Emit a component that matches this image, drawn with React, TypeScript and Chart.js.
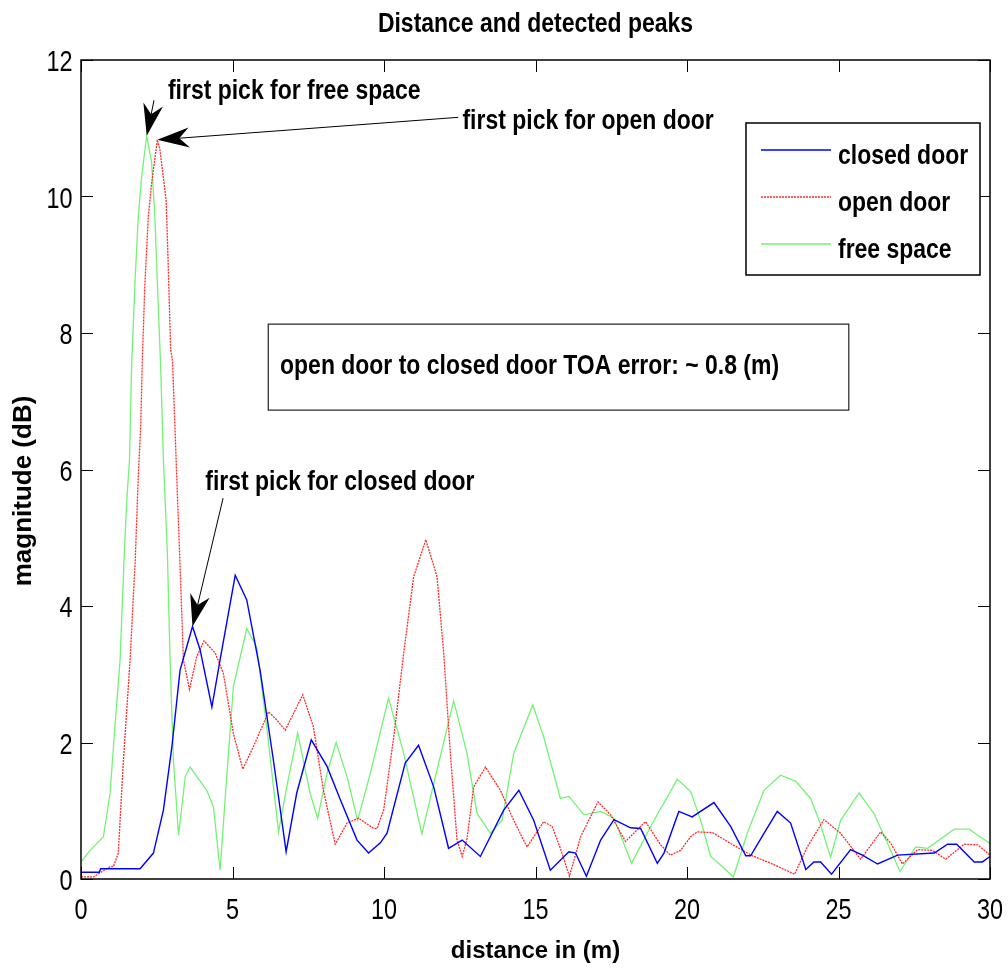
import { useEffect, useRef } from "react";
import { Chart, registerables } from "chart.js";

Chart.register(...registerables);

// Measured magnitude vs. distance, one [distance (m), magnitude (dB)] pair per point
const closedDoor: [number, number][] = [
  [0, 0.1], [0.6, 0.1], [0.65, 0.15], [1.95, 0.15], [2.39, 0.38], [2.72, 1.01], [3.0, 1.94],
  [3.27, 3.06], [3.68, 3.7], [3.93, 3.36], [4.32, 2.52], [4.59, 3.21], [5.09, 4.45], [5.47, 4.09],
  [5.91, 3.06], [6.35, 1.74], [6.77, 0.4], [7.12, 1.26], [7.6, 2.04], [8.12, 1.65], [8.56, 1.16],
  [9.11, 0.57], [9.49, 0.38], [9.88, 0.53], [10.1, 0.67], [10.7, 1.7], [11.14, 1.96], [11.64, 1.35],
  [12.13, 0.45], [12.58, 0.57], [13.18, 0.33], [13.95, 1.01], [14.45, 1.3], [14.94, 0.86],
  [15.49, 0.13], [16.1, 0.4], [16.32, 0.38], [16.68, 0.04], [17.15, 0.57], [17.59, 0.87],
  [18.14, 0.75], [18.47, 0.74], [19.02, 0.23], [19.24, 0.38], [19.73, 0.99], [20.17, 0.91],
  [20.89, 1.12], [21.44, 0.77], [21.94, 0.34], [22.1, 0.34], [22.54, 0.67], [22.98, 0.99],
  [23.42, 0.82], [23.92, 0.14], [24.19, 0.25], [24.41, 0.25], [24.77, 0.07], [25.4, 0.43],
  [25.79, 0.35], [26.29, 0.22], [26.95, 0.35], [28.16, 0.38], [28.6, 0.51], [28.9, 0.51],
  [29.48, 0.25], [29.75, 0.25], [30, 0.33],
];

const openDoor: [number, number][] = [
  [0, 0.03], [0.4, 0.03], [0.96, 0.18], [1.07, 0.18], [1.23, 0.38], [1.4, 1.74], [1.62, 3.21],
  [1.79, 4.67], [1.89, 5.89], [1.97, 6.63], [2.03, 7.7], [2.11, 8.73], [2.22, 9.7], [2.33, 10.19],
  [2.52, 10.83], [2.6, 10.7], [2.81, 9.95], [2.88, 8.97], [2.96, 7.75], [3.02, 7.6], [3.16, 5.89],
  [3.27, 4.58], [3.38, 3.21], [3.58, 2.78], [3.82, 3.26], [4.06, 3.49], [4.43, 3.31], [4.7, 3.01],
  [5.03, 2.13], [5.34, 1.61], [5.69, 1.94], [6.19, 2.45], [6.46, 2.33], [6.74, 2.18], [7.32, 2.7],
  [7.67, 2.23], [8.0, 1.3], [8.39, 0.51], [8.78, 0.82], [9.16, 0.89], [9.66, 0.74], [9.77, 0.74],
  [9.99, 1.01], [10.32, 2.08], [10.65, 3.31], [10.98, 4.43], [11.38, 4.97], [11.75, 4.43],
  [11.97, 3.31], [12.19, 1.84], [12.41, 0.57], [12.58, 0.33], [12.74, 0.59], [12.96, 1.35],
  [13.35, 1.64], [13.84, 1.3], [14.28, 0.86], [14.72, 0.47], [15.27, 0.84], [15.55, 0.77],
  [15.82, 0.45], [16.12, 0.04], [16.49, 0.62], [17.06, 1.13], [17.48, 0.94], [17.97, 0.55],
  [18.63, 0.84], [19.13, 0.5], [19.45, 0.35], [19.79, 0.42], [20.12, 0.62], [20.34, 0.69],
  [20.84, 0.68], [21.44, 0.52], [22.16, 0.34], [22.87, 0.21], [23.55, 0.07], [23.97, 0.47],
  [24.52, 0.87], [25.07, 0.67], [25.73, 0.29], [26.39, 0.69], [26.73, 0.52], [27.11, 0.22],
  [27.61, 0.43], [28.1, 0.42], [28.54, 0.29], [29.15, 0.51], [29.6, 0.5], [30, 0.35],
];

const freeSpace: [number, number][] = [
  [0, 0.25], [0.3, 0.42], [0.74, 0.62], [0.96, 1.26], [1.12, 2.23], [1.29, 3.21], [1.43, 4.78],
  [1.51, 5.55], [1.6, 6.14], [1.67, 7.5], [1.78, 8.73], [1.89, 9.7], [2.0, 10.29], [2.17, 10.89],
  [2.33, 10.5], [2.44, 9.7], [2.52, 8.73], [2.63, 7.5], [2.72, 6.14], [2.85, 4.78], [2.94, 3.21],
  [3.05, 1.74], [3.22, 0.64], [3.44, 1.5], [3.6, 1.64], [4.15, 1.3], [4.37, 1.06], [4.59, 0.13],
  [4.81, 1.5], [5.03, 2.82], [5.47, 3.67], [5.8, 3.4], [6.13, 2.23], [6.52, 0.69], [6.79, 1.35],
  [7.15, 2.14], [7.56, 1.26], [7.81, 0.89], [8.12, 1.55], [8.42, 2.0], [8.78, 1.5], [9.13, 0.86],
  [9.55, 1.55], [10.15, 2.65], [10.65, 1.84], [11.25, 0.66], [11.75, 1.6], [12.3, 2.61],
  [12.74, 1.84], [13.07, 0.96], [13.51, 0.67], [13.9, 0.86], [14.28, 1.84], [14.91, 2.55],
  [15.27, 2.08], [15.82, 1.18], [16.1, 1.21], [16.6, 0.94], [17.15, 0.99], [17.59, 0.89],
  [18.17, 0.23], [18.8, 0.77], [19.68, 1.46], [20.12, 1.28], [20.45, 0.86], [20.78, 0.33],
  [21.17, 0.18], [21.53, 0.03], [21.99, 0.67], [22.54, 1.3], [23.09, 1.52], [23.59, 1.43],
  [24.08, 1.18], [24.36, 0.86], [24.74, 0.32], [25.07, 0.86], [25.68, 1.26], [26.17, 0.96],
  [26.62, 0.52], [27.03, 0.11], [27.55, 0.47], [27.94, 0.45], [28.82, 0.73], [29.31, 0.73],
  [30, 0.52],
];

const seriesNames = ["closed door", "open door", "free space"];
const xTicks = [0, 5, 10, 15, 20, 25, 30];
const yTicks = [0, 2, 4, 6, 8, 10, 12];

const chartTitle = "Distance and detected peaks";
const xTitle = "distance in (m)";
const yTitle = "magnitude (dB)";
const errorNote = "open door to closed door TOA error: ~ 0.8 (m)";

// Peak call-outs: which series, the x-range searched for its peak,
// the arrow tail and the text anchor (left, baseline) in data units.
const peakNotes = [
  { text: "first pick for free space", series: 2, range: [0, 30], tail: [2.41, 11.41], at: [2.87, 11.43] },
  { text: "first pick for open door", series: 1, range: [0, 30], tail: [12.45, 11.16], at: [12.59, 10.99] },
  { text: "first pick for closed door", series: 0, range: [0, 4.5], tail: [4.69, 5.58], at: [4.1, 5.7] },
];

const FONT = '"Liberation Sans", Arial, sans-serif';
// horizontal squeeze giving the condensed look of the labels
const SQUEEZE = 0.82;

const colors = ["#0000ff", "#ff2a2a", "#74f274"];
const dashes: number[][] = [[], [2, 1], []];
const widths = [1.4, 1.3, 1.3];

const allSeries = [closedDoor, openDoor, freeSpace];

function peakOf(points: [number, number][], range: number[]) {
  let best = points[0];
  for (const p of points) {
    if (p[0] >= range[0] && p[0] <= range[1] && p[1] > best[1]) best = p;
  }
  return best;
}

function condensedText(
  ctx: CanvasRenderingContext2D,
  text: string,
  x: number,
  y: number,
  align: CanvasTextAlign,
  sx: number,
) {
  ctx.save();
  ctx.translate(x, y);
  ctx.scale(sx, 1);
  ctx.textAlign = align;
  ctx.fillText(text, 0, 0);
  ctx.restore();
}

function drawArrow(ctx: CanvasRenderingContext2D, x1: number, y1: number, x2: number, y2: number) {
  const dx = x2 - x1;
  const dy = y2 - y1;
  const len = Math.hypot(dx, dy);
  const ux = dx / len;
  const uy = dy / len;
  const nx = -uy;
  const ny = ux;
  const L = 32;
  const W = 10;
  const notch = 22;
  ctx.beginPath();
  ctx.moveTo(x1, y1);
  ctx.lineTo(x2 - ux * notch, y2 - uy * notch);
  ctx.lineWidth = 1;
  ctx.strokeStyle = "#000";
  ctx.stroke();
  ctx.beginPath();
  ctx.moveTo(x2, y2);
  ctx.lineTo(x2 - ux * L + nx * W, y2 - uy * L + ny * W);
  ctx.lineTo(x2 - ux * notch, y2 - uy * notch);
  ctx.lineTo(x2 - ux * L - nx * W, y2 - uy * L - ny * W);
  ctx.closePath();
  ctx.fillStyle = "#000";
  ctx.fill();
}

const decorations = {
  id: "decorations",
  afterDatasetsDraw(chart: any) {
    const { ctx, chartArea: a, scales } = chart;
    const xs = scales.x;
    const ys = scales.y;
    const px = (v: number) => xs.getPixelForValue(v);
    const py = (v: number) => ys.getPixelForValue(v);

    ctx.save();
    // axes box
    ctx.strokeStyle = "#000";
    ctx.lineWidth = 1.5;
    ctx.strokeRect(a.left, a.top, a.right - a.left, a.bottom - a.top);

    // inward tick marks on all four sides
    const tl = 12;
    ctx.lineWidth = 1;
    ctx.beginPath();
    for (const t of xs.ticks) {
      const x = Math.round(px(t.value)) + 0.5;
      ctx.moveTo(x, a.bottom);
      ctx.lineTo(x, a.bottom - tl);
      ctx.moveTo(x, a.top);
      ctx.lineTo(x, a.top + tl);
    }
    for (const t of ys.ticks) {
      const y = Math.round(py(t.value)) + 0.5;
      ctx.moveTo(a.left, y);
      ctx.lineTo(a.left + tl, y);
      ctx.moveTo(a.right, y);
      ctx.lineTo(a.right - tl, y);
    }
    ctx.stroke();

    // tick labels
    ctx.fillStyle = "#000";
    ctx.textBaseline = "alphabetic";
    ctx.font = `30px ${FONT}`;
    for (const t of xs.ticks) {
      condensedText(ctx, String(t.value), px(t.value), a.bottom + 40, "center", 0.78);
    }
    for (const t of ys.ticks) {
      condensedText(ctx, String(t.value), a.left - 8.5, py(t.value) + 11, "right", 0.78);
    }

    // title
    ctx.font = `bold 28px ${FONT}`;
    condensedText(ctx, chartTitle, (a.left + a.right) / 2, 32, "center", SQUEEZE);

    // y axis title
    ctx.save();
    ctx.translate(24, 491);
    ctx.rotate(-Math.PI / 2);
    ctx.textBaseline = "middle";
    ctx.textAlign = "center";
    ctx.font = `bold 26px ${FONT}`;
    ctx.fillText(yTitle, 0, 0);
    ctx.restore();

    // x axis title
    ctx.textBaseline = "middle";
    ctx.textAlign = "center";
    ctx.font = `bold 24px ${FONT}`;
    ctx.fillText(xTitle, (a.left + a.right) / 2, 951);

    // peak call-outs
    ctx.textBaseline = "alphabetic";
    ctx.font = `bold 28px ${FONT}`;
    for (const n of peakNotes) {
      const pk = peakOf(allSeries[n.series], n.range);
      drawArrow(ctx, px(n.tail[0]), py(n.tail[1]), px(pk[0]), py(pk[1]));
      ctx.fillStyle = "#000";
      condensedText(ctx, n.text, px(n.at[0]), py(n.at[1]), "left", SQUEEZE);
    }

    // error note box
    const bx1 = px(6.18), bx2 = px(25.34), by1 = py(8.13), by2 = py(6.87);
    ctx.fillStyle = "#fff";
    ctx.fillRect(bx1, by1, bx2 - bx1, by2 - by1);
    ctx.strokeStyle = "#222";
    ctx.lineWidth = 1.2;
    ctx.strokeRect(bx1, by1, bx2 - bx1, by2 - by1);
    ctx.fillStyle = "#000";
    condensedText(ctx, errorNote, px(6.57), py(7.4), "left", SQUEEZE);

    // legend
    const lx = a.right - 244, ly = a.top + 63, lw = 234, lh = 152;
    ctx.fillStyle = "#fff";
    ctx.fillRect(lx, ly, lw, lh);
    ctx.strokeStyle = "#000";
    ctx.lineWidth = 1.5;
    ctx.strokeRect(lx, ly, lw, lh);
    seriesNames.forEach((name, i) => {
      const y = ly + 27 + i * 47;
      ctx.beginPath();
      ctx.setLineDash(dashes[i]);
      ctx.strokeStyle = colors[i];
      ctx.lineWidth = widths[i];
      ctx.moveTo(lx + 15, y);
      ctx.lineTo(lx + 85, y);
      ctx.stroke();
      ctx.setLineDash([]);
      ctx.fillStyle = "#000";
      condensedText(ctx, name, lx + 92, y + 14, "left", SQUEEZE);
    });
    ctx.restore();
  },
};

export default function App() {
  const canvasRef = useRef<HTMLCanvasElement>(null);

  useEffect(() => {
    const canvas = canvasRef.current;
    if (!canvas) return;
    const chart = new Chart(canvas, {
      type: "line",
      data: {
        datasets: allSeries.map((pts, i) => ({
          label: seriesNames[i],
          data: pts.map(([x, y]) => ({ x, y })),
          borderColor: colors[i],
          borderWidth: widths[i],
          borderDash: dashes[i],
          pointRadius: 0,
          tension: 0,
          fill: false,
        })),
      },
      options: {
        animation: false,
        responsive: false,
        events: [],
        layout: { padding: { top: 60, right: 18, left: 0, bottom: 0 } },
        plugins: {
          legend: { display: false },
          title: { display: false },
          tooltip: { enabled: false },
        },
        scales: {
          x: {
            type: "linear",
            min: 0,
            max: 30,
            afterBuildTicks: (s: any) => {
              s.ticks = xTicks.map((value) => ({ value }));
            },
            afterFit: (s: any) => {
              s.height = 91;
            },
            ticks: { display: false },
            grid: { display: false, drawTicks: false },
            border: { display: false },
          },
          y: {
            type: "linear",
            min: 0,
            max: 12,
            afterBuildTicks: (s: any) => {
              s.ticks = yTicks.map((value) => ({ value }));
            },
            afterFit: (s: any) => {
              s.width = 81;
            },
            ticks: { display: false },
            grid: { display: false, drawTicks: false },
            border: { display: false },
          },
        },
      },
      plugins: [decorations],
    });
    return () => chart.destroy();
  }, []);

  return (
    <div style={{ position: "absolute", left: 0, top: 0, width: 1008, height: 970, background: "#fff" }}>
      <canvas ref={canvasRef} width={1008} height={970} style={{ display: "block" }} />
    </div>
  );
}
